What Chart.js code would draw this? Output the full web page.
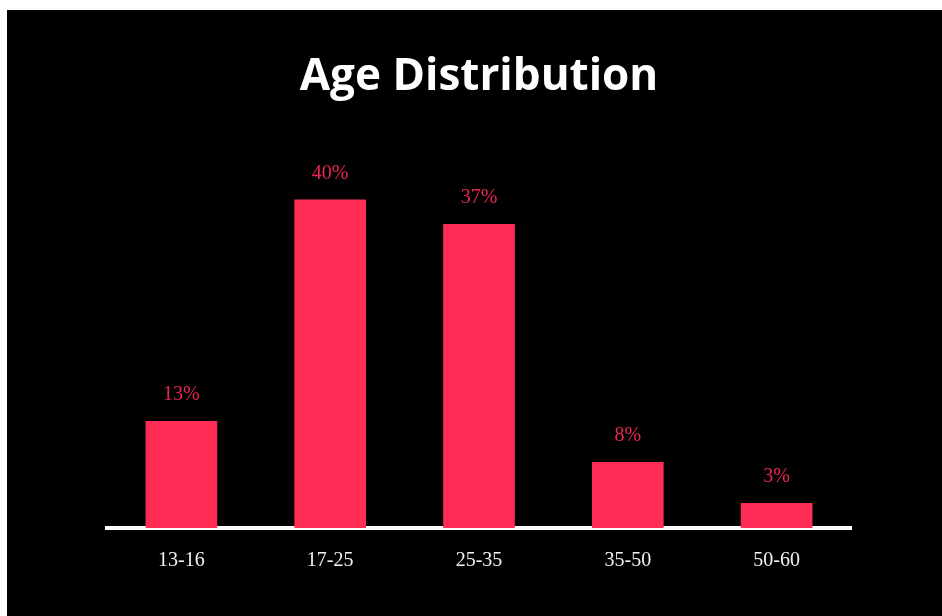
<!DOCTYPE html>
<html>
<head>
<meta charset="utf-8">
<script src="https://cdn.jsdelivr.net/npm/chart.js@4/dist/chart.umd.min.js"></script>
<style>
  html, body { margin: 0; padding: 0; background: #fff; }
  #wrap { position: absolute; left: 7px; top: 10px; width: 935px; height: 606px; background: #000; }
</style>
</head>
<body>
<div id="wrap"><canvas id="chart" width="935" height="606"></canvas></div>
<script>
// data
const ageGroups = ['13-16', '17-25', '25-35', '35-50', '50-60'];
const shares = [13, 40, 37, 8, 3];

const barColor = '#ff2d55';
const labelColor = '#e8264f';

// draws the "40%" style labels above each bar
const valueLabels = {
    id: 'valueLabels',
    afterDatasetsDraw: function(chart) {
        const ctx = chart.ctx;
        const meta = chart.getDatasetMeta(0);
        ctx.save();
        ctx.font = '20px "Liberation Serif", "Times New Roman", serif';
        ctx.fillStyle = labelColor;
        ctx.textAlign = 'center';
        ctx.textBaseline = 'alphabetic';
        meta.data.forEach((bar, i) => {
            ctx.fillText(shares[i] + '%', bar.x, bar.y - 21);
        });
        ctx.restore();
    }
};

const ctx = document.getElementById('chart').getContext('2d');
new Chart(ctx, {
    type: 'bar',
    data: {
        labels: ageGroups,
        datasets: [{
            data: shares,
            backgroundColor: barColor,
            borderWidth: 0,
            barThickness: 71
        }]
    },
    options: {
        responsive: false,
        animation: false,
        layout: { padding: { left: 100, right: 91, top: 0, bottom: 22 } },
        plugins: {
            legend: { display: false },
            tooltip: { enabled: false },
            title: {
                display: true,
                text: 'Age Distribution',
                color: '#fff',
                font: { family: '"Open Sans", sans-serif', size: 44, weight: 'bold', lineHeight: 1.2 },
                padding: { top: 41, bottom: 14 }
            }
        },
        scales: {
            x: {
                grid: { display: false, drawTicks: false },
                border: { display: true, color: '#fff', width: 4 },
                ticks: {
                    color: '#f2f2f2',
                    padding: 21,
                    font: { family: '"Liberation Serif", "Times New Roman", serif', size: 20 }
                }
            },
            y: {
                display: false,
                min: 0,
                max: 50
            }
        }
    },
    plugins: [valueLabels]
});
</script>
</body>
</html>
